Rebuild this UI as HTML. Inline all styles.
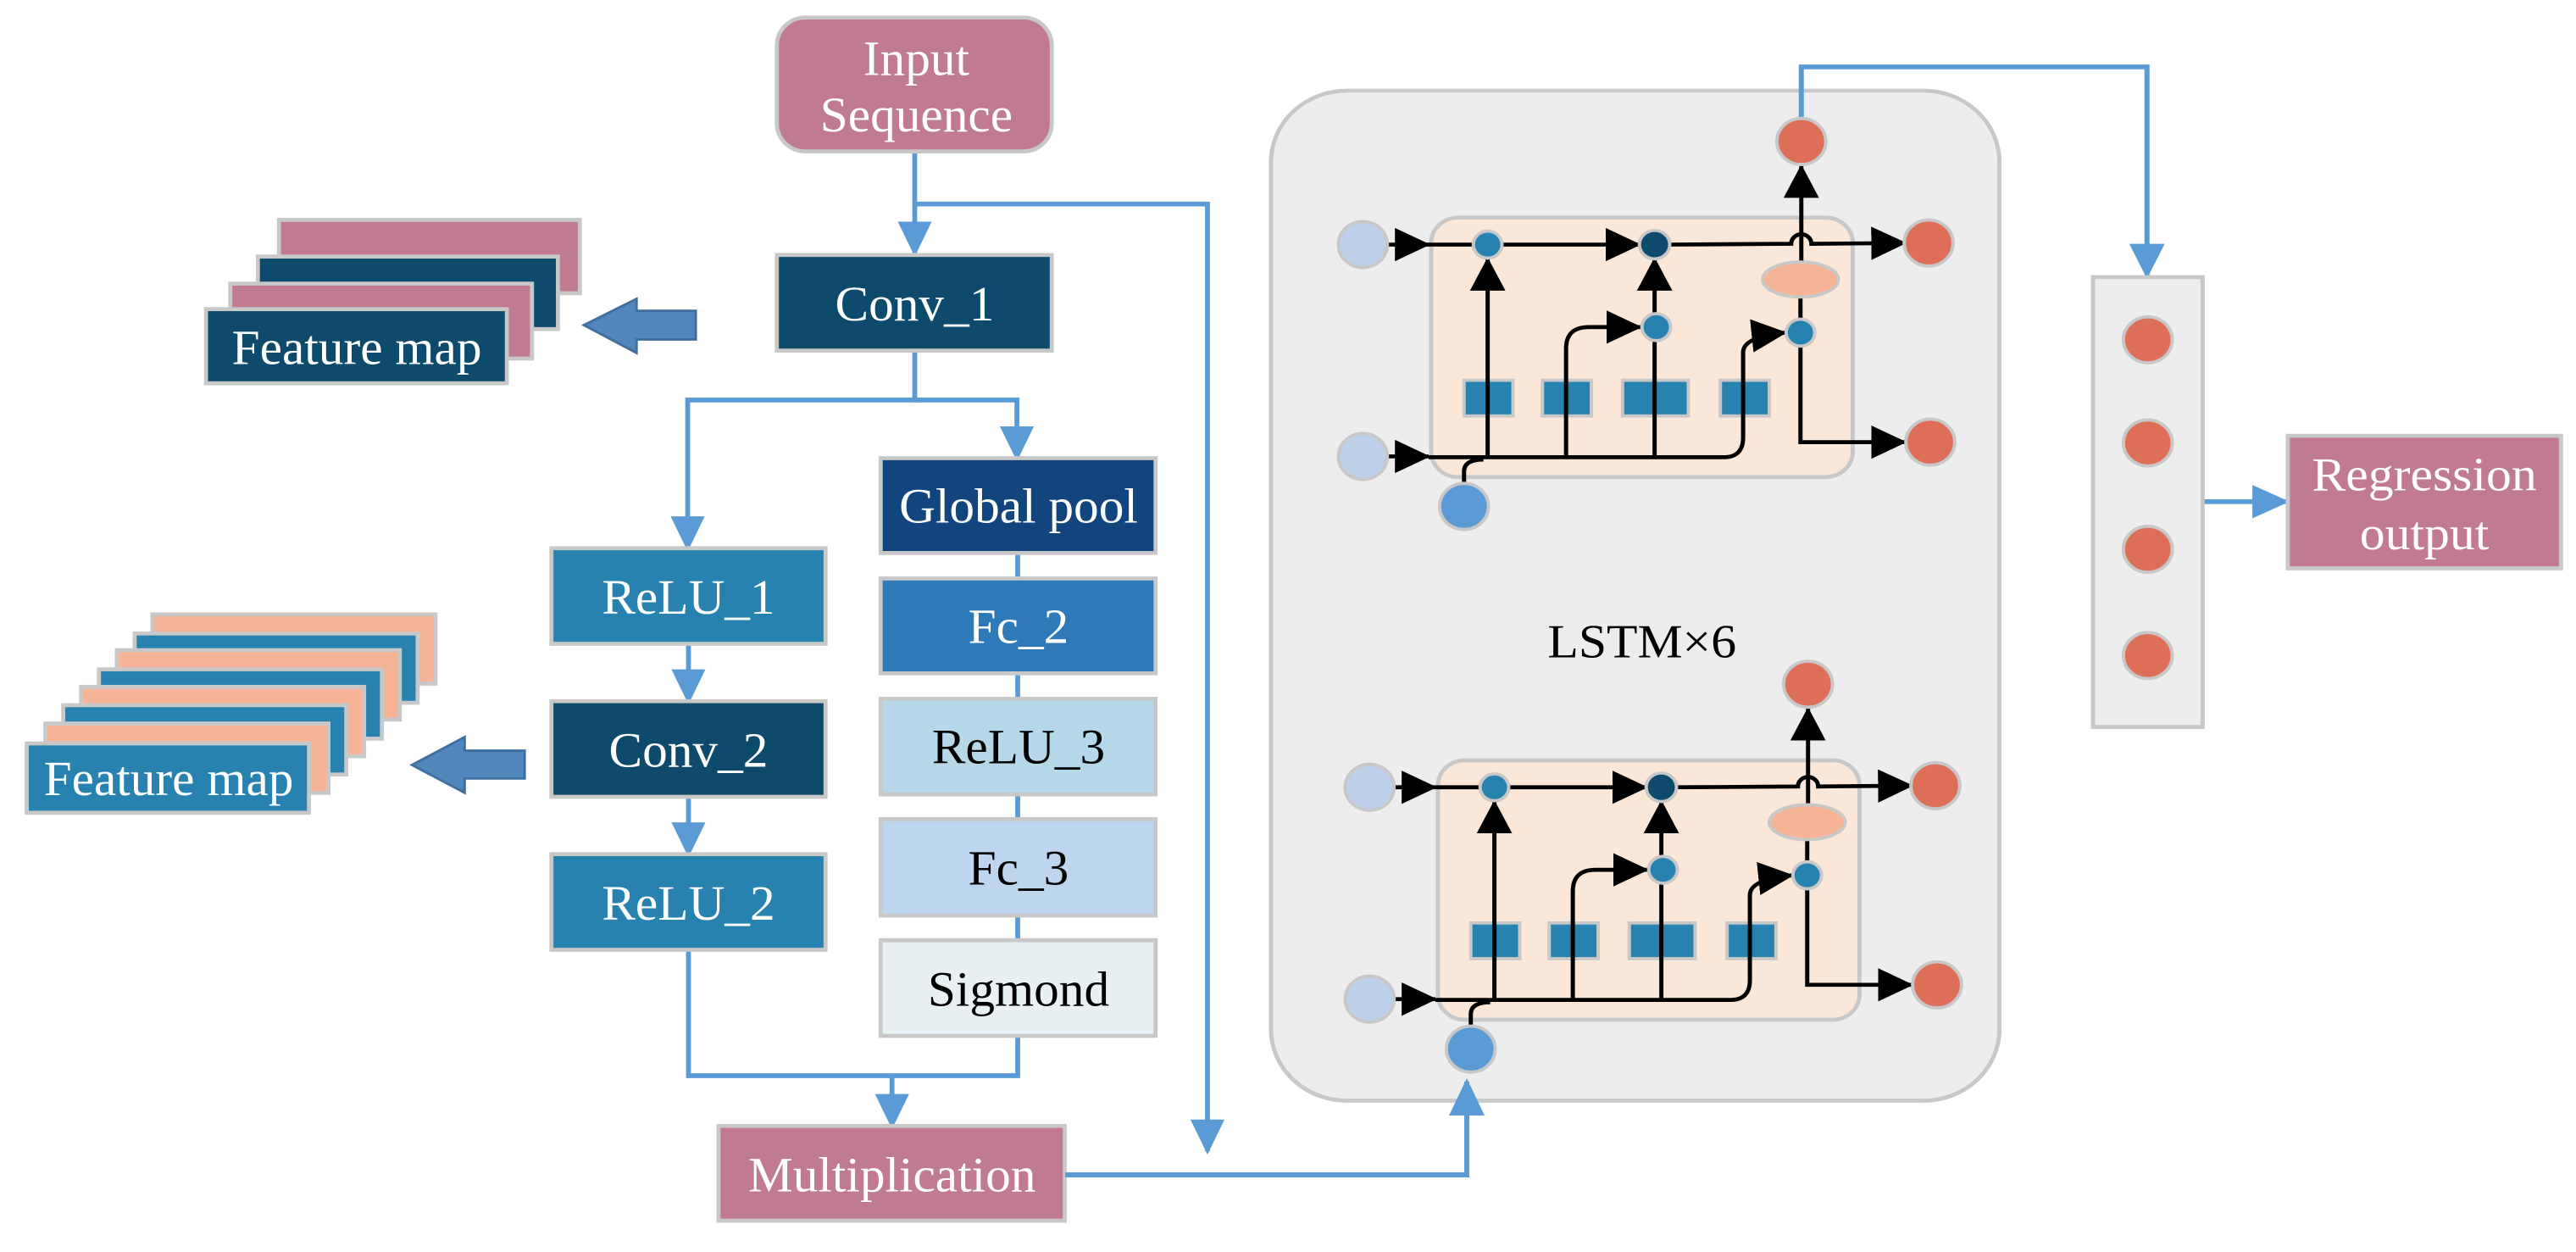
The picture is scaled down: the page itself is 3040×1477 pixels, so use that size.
<!DOCTYPE html>
<html><head><meta charset="utf-8"><style>
html,body{margin:0;padding:0;background:#fff;}
svg{display:block;}
svg text{font-family:"Liberation Serif","Times New Roman","DejaVu Serif","Noto Serif CJK SC",serif;}
</style></head><body>
<svg width="3040" height="1477" viewBox="0 0 3040 1477" xmlns="http://www.w3.org/2000/svg">
<defs>
<marker id="ba" markerUnits="userSpaceOnUse" markerWidth="44" markerHeight="42" refX="40" refY="21" orient="auto" viewBox="0 0 44 42"><path d="M0,0 L44,21 L0,42 Z" fill="#5b9bd5"/></marker>
<marker id="ka" markerUnits="userSpaceOnUse" markerWidth="42" markerHeight="42" refX="40" refY="21" orient="auto" viewBox="0 0 42 42"><path d="M0,0 L42,21 L0,42 Z" fill="#000"/></marker>
</defs>

<!-- LEFT PART -->
<g transform="scale(0.957,0.94)">
 <g fill="none" stroke="#5b9bd5" stroke-width="6">
  <path d="M1128,190 V318" marker-end="url(#ba)"/>
  <path d="M1128,256 H1489 V1445" marker-end="url(#ba)"/>
  <path d="M1128,440 V502 H848 V688" marker-end="url(#ba)"/>
  <path d="M1128,502 H1254 V575" marker-end="url(#ba)"/>
  <path d="M849,808 V880" marker-end="url(#ba)"/>
  <path d="M849,1000 V1072" marker-end="url(#ba)"/>
  <path d="M849,1192 V1350 H1255 V1300"/>
  <path d="M1100,1350 V1413" marker-end="url(#ba)"/>
  <path d="M1255,694 V1180"/>
 </g>
 <g stroke="#c8c8c8" stroke-width="5">
  <rect x="958" y="22" width="339" height="168" rx="35" fill="#c07a92"/>
  <rect x="958" y="320" width="339" height="120" fill="#0e4a6c"/>
  <rect x="1086" y="575" width="339" height="119" fill="#12457e"/>
  <rect x="1086" y="726" width="339" height="119" fill="#2e7ab8"/>
  <rect x="1086" y="877" width="339" height="120" fill="#b6d7e8"/>
  <rect x="1086" y="1028" width="339" height="121" fill="#bdd6ed"/>
  <rect x="1086" y="1180" width="339" height="120" fill="#e9f0f3"/>
  <rect x="680" y="688" width="338" height="120" fill="#2882b0"/>
  <rect x="680" y="880" width="338" height="120" fill="#0e4a6c"/>
  <rect x="680" y="1072" width="338" height="120" fill="#2882b0"/>
  <rect x="886" y="1413" width="427" height="119" fill="#c07a92"/>
  <rect x="344" y="276" width="371" height="92" fill="#c07a92"/>
  <rect x="318" y="322" width="370" height="91" fill="#0e4a6c"/>
  <rect x="284" y="356" width="372" height="94" fill="#c07a92"/>
  <rect x="254" y="388" width="371" height="93" fill="#0e4a6c"/>
  <rect x="188" y="771" width="349" height="87" fill="#f6b496"/>
  <rect x="166" y="795" width="349" height="87" fill="#2882b0"/>
  <rect x="144" y="816" width="349" height="87" fill="#f6b496"/>
  <rect x="122" y="840" width="349" height="87" fill="#2882b0"/>
  <rect x="100" y="862" width="349" height="87" fill="#f6b496"/>
  <rect x="78" y="885" width="349" height="87" fill="#2882b0"/>
  <rect x="56" y="908" width="349" height="87" fill="#f6b496"/>
  <rect x="33" y="933" width="348" height="87" fill="#2882b0"/>
 </g>
 <path d="M720,408 L785,375 L785,390 L858,390 L858,426 L785,426 L785,443 Z" fill="#4f87bd" stroke="#3d6e9e" stroke-width="3"/>
 <path d="M508,960 L573,925 L573,942 L647,942 L647,977 L573,977 L573,995 Z" fill="#4f87bd" stroke="#3d6e9e" stroke-width="3"/>
 <g font-size="62" text-anchor="middle" fill="#fff">
  <text x="1130" y="94">Input</text>
  <text x="1130" y="165">Sequence</text>
  <text x="1128" y="402">Conv_1</text>
  <text x="1256" y="656">Global pool</text>
  <text x="1256" y="807">Fc_2</text>
  <text x="1256" y="958" fill="#000">ReLU_3</text>
  <text x="1256" y="1110" fill="#000">Fc_3</text>
  <text x="1256" y="1262" fill="#000">Sigmond</text>
  <text x="849" y="770">ReLU_1</text>
  <text x="849" y="962">Conv_2</text>
  <text x="849" y="1154">ReLU_2</text>
  <text x="1100" y="1495">Multiplication</text>
  <text x="440" y="457">Feature map</text>
  <text x="208" y="998">Feature map</text>
 </g>
</g>

<!-- RIGHT PART -->
<g transform="translate(1482,4) scale(0.995,0.936)">
 <rect x="18" y="110" width="864" height="1273" rx="90" fill="#ededed" stroke="#c8c8c8" stroke-width="5"/>
 <g fill="none" stroke="#5b9bd5" stroke-width="6">
  <path d="M647,150 V80 H1057 V343" marker-end="url(#ba)"/>
  <path d="M1123,628 H1222" marker-end="url(#ba)"/>
 </g>
 <g id="cell">
  <rect x="208" y="270" width="500" height="327" rx="32" fill="#fbe7d7" stroke="#c8c8c8" stroke-width="5"/>
  <g fill="#2882b0" stroke="#c8c8c8" stroke-width="4">
   <rect x="247" y="475" width="58" height="45"/>
   <rect x="340" y="475" width="58" height="45"/>
   <rect x="435" y="475" width="78" height="45"/>
   <rect x="551" y="475" width="58" height="45"/>
  </g>
  <g fill="none" stroke="#000" stroke-width="5">
   <path d="M150,304 H205" marker-end="url(#ka)"/>
   <path d="M205,304 H455" marker-end="url(#ka)"/>
   <path d="M490,304 L635,303 A12,12 0 0 1 659,303 L770,302" marker-end="url(#ka)"/>
   <path d="M647,330 V205" marker-end="url(#ka)"/>
   <path d="M275,572 V322" marker-end="url(#ka)"/>
   <path d="M368,572 V435 Q368,408 395,408 H456" marker-end="url(#ka)"/>
   <path d="M473,572 V322" marker-end="url(#ka)"/>
   <path d="M150,571 H205" marker-end="url(#ka)"/>
   <path d="M205,572 H555 Q578,572 578,547 V440 Q578,420 628,415" marker-end="url(#ka)"/>
   <path d="M646,370 V553 H770" marker-end="url(#ka)"/>
   <path d="M247,604 V590 Q247,575 270,575"/>
  </g>
  <g stroke="#c8c8c8" stroke-width="4">
   <ellipse cx="646" cy="348" rx="45" ry="22" fill="#f6b496"/>
   <circle cx="275" cy="304" r="17" fill="#2882b0"/>
   <circle cx="473" cy="304" r="18" fill="#0e4a6c"/>
   <circle cx="475" cy="408" r="17" fill="#2882b0"/>
   <circle cx="646" cy="415" r="17" fill="#2882b0"/>
   <circle cx="127" cy="304" r="29" fill="#bdd0e9"/>
   <circle cx="127" cy="571" r="29" fill="#bdd0e9"/>
   <circle cx="247" cy="634" r="29" fill="#5b9bd5"/>
   <circle cx="647" cy="174" r="29" fill="#dd6e58"/>
   <circle cx="798" cy="302" r="29" fill="#dd6e58"/>
   <circle cx="800" cy="553" r="29" fill="#dd6e58"/>
  </g>
 </g>
 <use href="#cell" transform="translate(8,684)"/>
 <rect x="993" y="345" width="130" height="567" fill="#ededed" stroke="#c8c8c8" stroke-width="5"/>
 <g fill="#dd6e58" stroke="#c8c8c8" stroke-width="4">
  <circle cx="1058" cy="424" r="29"/>
  <circle cx="1058" cy="554" r="29"/>
  <circle cx="1058" cy="688" r="29"/>
  <circle cx="1058" cy="822" r="29"/>
 </g>
 <rect x="1224" y="545" width="324" height="167" fill="#c07a92" stroke="#c8c8c8" stroke-width="5"/>
 <g font-size="60" text-anchor="middle">
  <text x="1386" y="614" fill="#fff">Regression</text>
  <text x="1386" y="688" fill="#fff">output</text>
  <text x="458" y="824" fill="#000">LSTM×6</text>
 </g>
</g>

<!-- connector Multiplication -> LSTM (drawn on top) -->
<path d="M1257,1386 H1731 V1276" fill="none" stroke="#5b9bd5" stroke-width="6" marker-end="url(#ba)"/>
</svg>
</body></html>
